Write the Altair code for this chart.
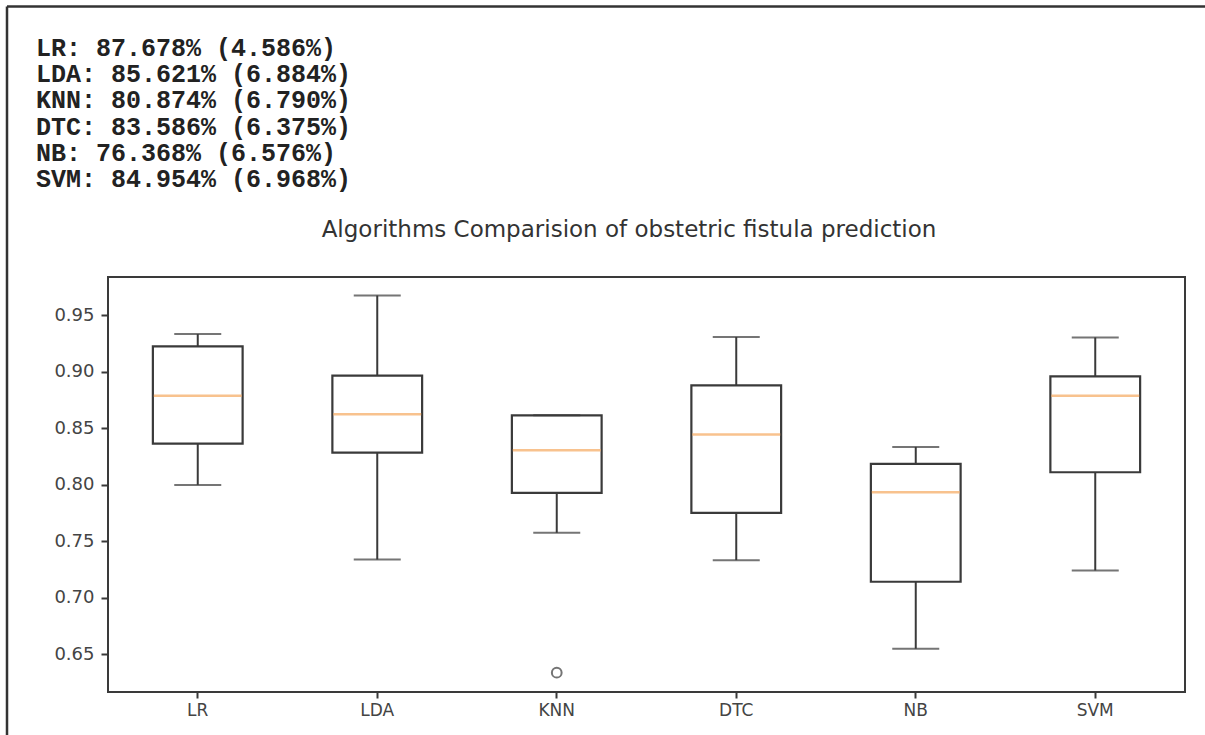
import altair as alt
import pandas as pd

# ---- data ----
names = ["LR", "LDA", "KNN", "DTC", "NB", "SVM"]
whisker_low = [0.800, 0.734, 0.7576, 0.7334, 0.655, 0.7243]
q1 = [0.8366, 0.8285, 0.793, 0.7753, 0.7143, 0.8112]
median = [0.879, 0.8625, 0.8306, 0.8445, 0.7935, 0.879]
q3 = [0.9226, 0.8967, 0.8616, 0.8881, 0.8186, 0.8961]
whisker_high = [0.9335, 0.9677, 0.8616, 0.9309, 0.8336, 0.9305]

outlier_names = ["KNN"]
outlier_values = [0.6338]

score_means = ["87.678", "85.621", "80.874", "83.586", "76.368", "84.954"]
score_stds = ["4.586", "6.884", "6.790", "6.375", "6.576", "6.968"]

y_ticks = [0.65, 0.70, 0.75, 0.80, 0.85, 0.90, 0.95]
y_domain = [0.6167, 0.984]

title_text = "Algorithms Comparision of obstetric fistula prediction"

# ---- tables ----
boxes = pd.DataFrame({
    "name": names, "low": whisker_low, "q1": q1, "median": median,
    "q3": q3, "high": whisker_high,
})
outliers = pd.DataFrame({"name": outlier_names, "value": outlier_values})
lines = [f"{n}: {m}% ({s}%)" for n, m, s in zip(names, score_means, score_stds)]

W, H = 1077, 415
LEFT, TOP = 108, 277
INK = "#3a3a3a"
ORANGE = "#f5a85e"

x_enc = alt.X("name:N", sort=names,
              scale=alt.Scale(paddingInner=0, paddingOuter=0),
              axis=alt.Axis(title=None, labelAngle=0, domain=False,
                            tickSize=6, tickColor=INK, tickWidth=2,
                            labelFontSize=17, labelColor="#444",
                            labelFont="DejaVu Sans", labelPadding=4))
y_scale = alt.Scale(domain=y_domain, nice=False, zero=False)
y_axis = alt.Axis(title=None, values=y_ticks, format=".2f", grid=False,
                  domain=False, tickSize=7, tickColor=INK, tickWidth=2,
                  labelFontSize=18, labelColor="#444",
                  labelFont="DejaVu Sans", labelPadding=7)

base = alt.Chart(boxes)

whiskers = base.mark_rule(color=INK, strokeWidth=2).encode(
    x=x_enc,
    y=alt.Y("low:Q", scale=y_scale, axis=y_axis),
    y2="high:Q",
)
box = base.mark_bar(width=alt.RelativeBandSize(0.5), fill="white",
                    stroke=INK, strokeWidth=2.2).encode(
    x=x_enc, y=alt.Y("q1:Q", scale=y_scale), y2="q3:Q")
cap_low = base.mark_tick(size=47, thickness=2, color=INK).encode(
    x=x_enc, y=alt.Y("low:Q", scale=y_scale))
cap_high = base.mark_tick(size=47, thickness=2, color=INK).encode(
    x=x_enc, y=alt.Y("high:Q", scale=y_scale))
med = base.mark_tick(size=88, thickness=2.5, color=ORANGE).encode(
    x=x_enc, y=alt.Y("median:Q", scale=y_scale))
fliers = alt.Chart(outliers).mark_point(shape="circle", filled=False, size=95,
                                        stroke=INK, strokeWidth=2).encode(
    x=x_enc, y=alt.Y("value:Q", scale=y_scale))

text_block = alt.Chart(pd.DataFrame({"t": [0]})).mark_text(
    text=lines, font="Liberation Mono", fontWeight="bold", fontSize=25,
    lineHeight=26.2, align="left", baseline="middle", color="#222",
).encode(x=alt.value(36 - LEFT), y=alt.value(48 - TOP))

title_mark = alt.Chart(pd.DataFrame({"t": [0]})).mark_text(
    text=title_text, font="DejaVu Sans", fontSize=23, align="center",
    baseline="middle", color="#333",
).encode(x=alt.value(629 - LEFT), y=alt.value(230 - TOP))

frame = pd.DataFrame({"t": [0]})
frame_top = alt.Chart(frame).mark_rule(color="#333", strokeWidth=2.5).encode(
    x=alt.value(7 - LEFT), x2=alt.value(1205 - LEFT), y=alt.value(6.5 - TOP))
frame_left = alt.Chart(frame).mark_rule(color="#333", strokeWidth=2.5).encode(
    x=alt.value(7 - LEFT), y=alt.value(6.5 - TOP), y2=alt.value(735 - TOP))

chart = alt.layer(
    whiskers, box, cap_low, cap_high, med, fliers,
    text_block, title_mark, frame_top, frame_left,
).properties(
    width=W, height=H, autosize="none",
    padding={"left": LEFT, "top": TOP, "right": 1205 - LEFT - W,
             "bottom": 735 - TOP - H},
    background="white",
).configure_view(stroke=INK, strokeWidth=2)

chart.save("out.html", embed_options={"renderer": "svg", "actions": False})
